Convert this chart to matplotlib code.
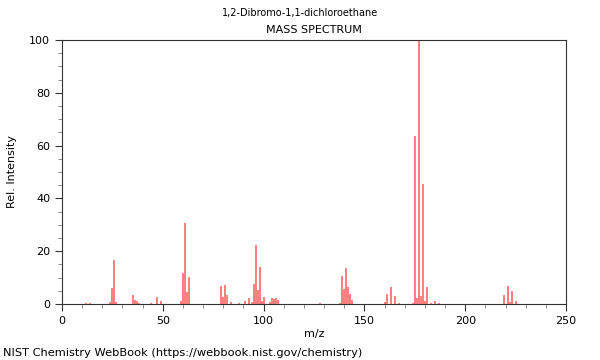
import numpy as np
import matplotlib
matplotlib.use("Agg")
import matplotlib.pyplot as plt
from matplotlib.ticker import MultipleLocator

# peaks (m/z, relative intensity)
mz = [12, 14, 24, 25, 26, 27, 35, 36, 37, 38, 44, 47, 49,
      59, 60, 61, 62, 63,
      79, 80, 81, 82, 84, 88, 91, 93, 94, 95, 96, 97, 98, 99, 100,
      103, 104, 105, 106, 107, 128,
      138, 139, 140, 141, 142, 143, 144,
      160, 161, 163, 165, 167,
      174, 175, 176, 177, 178, 179, 180, 181, 183, 185, 187,
      219, 221, 222, 223, 225]
intensity = [0.4, 0.4, 0.8, 6.2, 16.6, 0.8, 3.3, 1.5, 1.0, 0.5, 0.3, 2.6, 1.0,
             1.0, 11.7, 30.6, 4.5, 10.2,
             6.8, 2.6, 7.1, 3.4, 0.6, 0.4, 1.2, 2.3, 0.8, 7.7, 22.5, 5.3, 14.0, 1.3, 2.6,
             0.6, 2.2, 2.0, 2.2, 1.5, 0.5,
             0.5, 10.6, 5.5, 13.6, 6.3, 3.8, 1.5,
             0.8, 3.8, 6.3, 3.0, 0.5,
             0.5, 63.6, 2.2, 100.0, 3.0, 45.3, 1.2, 6.5, 0.5, 1.0, 0.5,
             3.4, 6.8, 0.6, 4.9, 1.1]

fig = plt.figure(figsize=(6, 3.6), dpi=100)
ax = fig.add_axes([62 / 600, 56 / 360, 504 / 600, 264 / 360])

ax.vlines(mz, 0, intensity, colors="#ff5a5a", linewidth=1.1)

ax.set_xlim(0, 250)
ax.set_ylim(0, 100)
ax.xaxis.set_major_locator(MultipleLocator(50))
ax.xaxis.set_minor_locator(MultipleLocator(10))
ax.yaxis.set_major_locator(MultipleLocator(20))
ax.yaxis.set_minor_locator(MultipleLocator(5))
ax.tick_params(which="major", length=5, width=0.8, labelsize=8, color="#333333")
ax.tick_params(which="minor", length=3, width=0.6, color="#777777")
for s in ax.spines.values():
    s.set_color("#333333")
    s.set_linewidth(0.8)

ax.set_xlabel("m/z", fontsize=8, labelpad=2)
ax.set_ylabel("Rel. Intensity", fontsize=8, labelpad=9)

fig.text(0.5, 1 - 13 / 360, "1,2-Dibromo-1,1-dichloroethane", ha="center", va="center", fontsize=7)
fig.text(314 / 600, 1 - 30 / 360, "MASS SPECTRUM", ha="center", va="center", fontsize=8)
fig.text(3 / 600, 7 / 360, "NIST Chemistry WebBook (https://webbook.nist.gov/chemistry)",
         ha="left", va="center", fontsize=8.2)

fig.savefig("out.png", dpi=100)
